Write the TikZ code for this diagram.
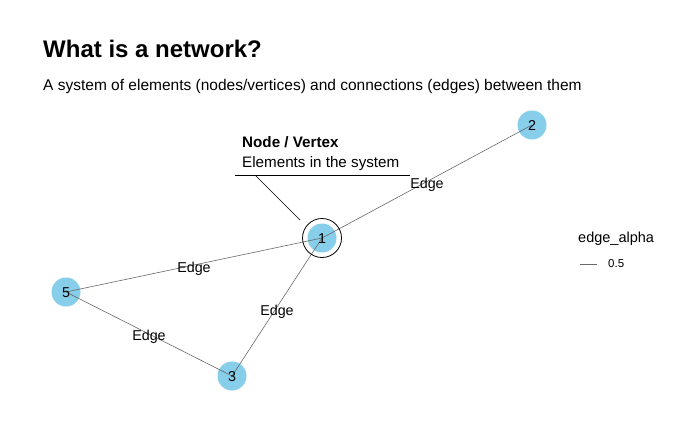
\documentclass[tikz,border=0pt]{standalone}
\usepackage{fontspec}
\setmainfont{Liberation Sans}
\definecolor{nodeblue}{HTML}{87CEEB}
\definecolor{edgegray}{HTML}{6A6A6A}
\begin{document}
\begin{tikzpicture}[x=1pt,y=-1pt,
  vert/.style={circle,fill=nodeblue,minimum size=29pt,inner sep=0pt},
  edge/.style={draw=edgegray,line width=0.6pt},
  elabel/.style={inner sep=0pt,font=\fontsize{14.3}{14.3}\selectfont},
  txt/.style={anchor=base west,inner sep=0pt}]
\useasboundingbox[fill=white] (0,0) rectangle (700,432);
\node[txt,font=\bfseries\fontsize{24}{24}\selectfont] (title) at (43,57) {What is a network?};
\node[txt,font=\fontsize{15.5}{15.5}\selectfont] (sub) at (43,90) {A system of elements (nodes/vertices) and connections (edges) between them};
% nodes
\node[vert] (n1) at (322,238) {};
\node[vert] (n2) at (532,125) {};
\node[vert] (n3) at (232,376) {};
\node[vert] (n5) at (66,292) {};
% edges
\draw[edge] (n1.center) -- (n2.center) node[elabel,pos=0.5,yshift=-3.5pt] (e12) {Edge};
\draw[edge] (n1.center) -- (n5.center) node[elabel,pos=0.5,yshift=-3.5pt] (e15) {Edge};
\draw[edge] (n1.center) -- (n3.center) node[elabel,pos=0.5,yshift=-4.5pt] (e13) {Edge};
\draw[edge] (n5.center) -- (n3.center) node[elabel,pos=0.5,yshift=-2.5pt] (e53) {Edge};
% node labels
\foreach \n/\l in {n1/1,n2/2,n3/3,n5/5}
  \node[inner sep=0pt,font=\fontsize{14.3}{14.3}\selectfont,yshift=-1pt] at (\n) {\l};
% annotation
\node[draw=black,circle,minimum size=39pt,inner sep=0pt,line width=0.8pt] (ring) at (n1) {};
\node[txt,font=\bfseries\fontsize{15.2}{15.2}\selectfont] (atitle) at (242,147) {Node / Vertex};
\node[txt,font=\fontsize{15.2}{15.2}\selectfont] (atext) at (242,167) {Elements in the system};
\coordinate (hl) at (235,175);
\coordinate (hr) at (410,175);
\coordinate (dk) at (255,175);
\coordinate (de) at (300,220);
\draw[line width=0.8pt] (hl) -- (hr);
\draw[line width=0.7pt] (dk) -- (de);
% legend
\node[txt,font=\fontsize{14.5}{14.5}\selectfont] (lt) at (578,242) {edge\_alpha};
\coordinate (la) at (580,264);
\coordinate (lb) at (597,264);
\draw[edge] (la) -- (lb);
\node[anchor=west,inner sep=0pt,font=\fontsize{11.5}{11.5}\selectfont] (lv) at (608,264) {0.5};
\end{tikzpicture}
\end{document}
